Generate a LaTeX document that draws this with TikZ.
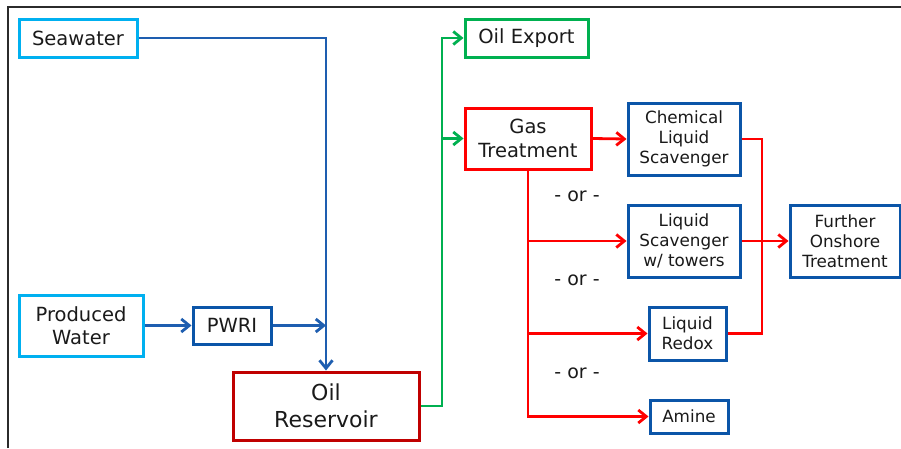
\documentclass[tikz,border=0pt]{standalone}
\usepackage{fontspec}
\setmainfont{DejaVu Sans}
\usetikzlibrary{arrows.meta}
\definecolor{paper}{HTML}{FFFFFF}
\definecolor{ink}{HTML}{1A1A1A}
\definecolor{frameline}{HTML}{2B2B2B}
\definecolor{skyblue}{HTML}{00B0F0}
\definecolor{deepblue}{HTML}{0B55A8}
\definecolor{flowblue}{HTML}{1E5EB0}
\definecolor{gasred}{HTML}{FF0000}
\definecolor{oilred}{HTML}{C00000}
\definecolor{exportgreen}{HTML}{00B050}
\newcommand{\mainfont}{\fontsize{19.5}{23.5}\selectfont}
\newcommand{\unitfont}{\fontsize{16.8}{20}\selectfont}
\newcommand{\reservoirfont}{\fontsize{22}{27}\selectfont}
\newcommand{\orfont}{\fontsize{19}{20}\selectfont}
\tikzset{
  unitbox/.style={draw,line width=3pt,fill=paper,inner sep=0pt,
                  align=center,text=ink},
  sourcebox/.style={unitbox,draw=skyblue,font=\mainfont},
  treatbox/.style={unitbox,draw=deepblue,font=\unitfont},
  flow/.style={line width=2.8pt,line join=miter,
               -{Straight Barb[length=8pt,width=13pt]}},
  bluepipe/.style={flow,draw=flowblue},
  greenpipe/.style={flow,draw=exportgreen},
  redpipe/.style={flow,draw=gasred},
  plain/.style={-,line width=2.8pt},
  orlabel/.style={font=\orfont,text=ink}
}

\begin{document}
\begin{tikzpicture}[x=1pt,y=-1pt]
  \fill[paper] (0,0) rectangle (901,448);
  \useasboundingbox (0,0) rectangle (901,448);

  % ============================ FRAME ============================
  \draw[frameline,line width=1.8pt] (8,448)--(8,7)--(901,7);

  % ======================= WATER INJECTION =======================
  \node[sourcebox,minimum width=118pt,minimum height=38pt] (sea) at (78,38)
    {Seawater};
  \node[sourcebox,minimum width=124pt,minimum height=61pt] (prod) at (81,325.5)
    {Produced\\Water};
  \node[treatbox,font=\mainfont,minimum width=78pt,minimum height=37pt]
    (pwri) at (232,325.5) {PWRI};
  \node[unitbox,draw=oilred,font=\reservoirfont,minimum width=186pt,
        minimum height=68pt] (res) at (326,406) {Oil\\Reservoir};

  \coordinate (merge) at (res.north |- pwri.east);
  \draw[bluepipe] (sea.east) -| (res.north);
  \draw[bluepipe] (prod.east) -- (pwri.west);
  \draw[bluepipe] (pwri.east) -- (merge);

  % ========================= OIL AND GAS =========================
  \node[unitbox,draw=exportgreen,font=\mainfont,minimum width=123pt,
        minimum height=38pt] (export) at (526.5,38) {Oil Export};
  \node[unitbox,draw=gasred,font=\mainfont,minimum width=126pt,
        minimum height=61pt] (gas) at (528,138.5) {Gas\\Treatment};

  \coordinate (riser) at (442,0);
  \draw[greenpipe] (res.east) -| (riser |- gas.west) |- (export.west);
  \draw[greenpipe] (riser |- gas.west) -- (gas.west);

  % ====================== H2S REMOVAL OPTIONS ====================
  \node[treatbox,minimum width=112pt,minimum height=72pt] (chem) at (684,139)
    {Chemical\\Liquid\\Scavenger};
  \node[treatbox,minimum width=112pt,minimum height=72pt] (tower) at (684,241)
    {Liquid\\Scavenger\\w/ towers};
  \node[treatbox,minimum width=77pt,minimum height=53pt] (redox) at (687.5,333.5)
    {Liquid\\Redox};
  \node[treatbox,minimum width=78pt,minimum height=33pt] (amine) at (689,416.5)
    {Amine};
  \node[treatbox,minimum width=110pt,minimum height=72pt] (onshore) at (845,241)
    {Further\\Onshore\\Treatment};

  \node[orlabel] (orone) at (577,196) {- or -};
  \node[orlabel] (ortwo) at (577,280) {- or -};
  \node[orlabel] (orthree) at (577,373) {- or -};

  \coordinate (collect) at (762,0);
  \draw[redpipe] (gas.east) -- (chem.west);
  \draw[redpipe] (gas.south) |- (amine.west);
  \draw[redpipe] (gas.south |- tower.west) -- (tower.west);
  \draw[redpipe] (gas.south |- redox.west) -- (redox.west);
  \draw[plain,draw=gasred] (chem.east) -| (collect |- redox.east) -- (redox.east);
  \draw[redpipe] (tower.east) -- (onshore.west);
\end{tikzpicture}
\end{document}
